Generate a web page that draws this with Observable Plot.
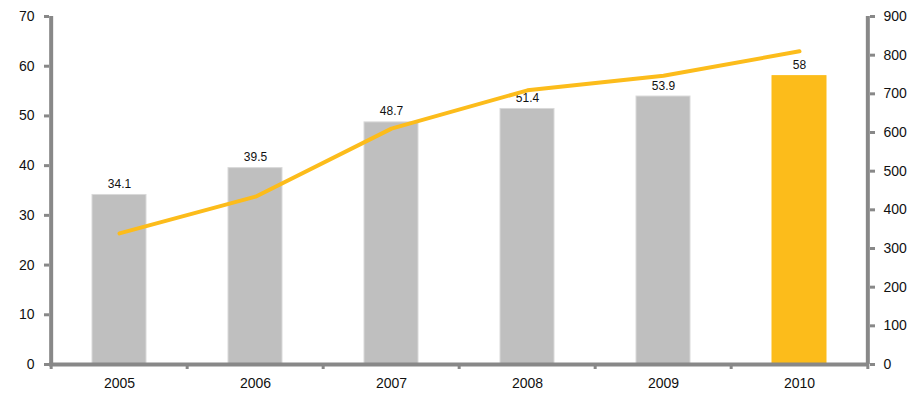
<!DOCTYPE html>
<html>
<head>
<meta charset="utf-8">
<script src="https://cdn.jsdelivr.net/npm/d3@7"></script>
<script src="https://cdn.jsdelivr.net/npm/@observablehq/plot@0.6"></script>
<style>
  html, body { margin: 0; padding: 0; background: #fff; }
  #chart svg { display: block; }
</style>
</head>
<body>
<div id="chart"></div>
<script>
const years = ["2005", "2006", "2007", "2008", "2009", "2010"];
const barValues = [34.1, 39.5, 48.7, 51.4, 53.9, 58];
const lineValues = [339, 434, 610, 709, 747, 810];
const leftTicks = [0, 10, 20, 30, 40, 50, 60, 70];
const rightTicks = [0, 100, 200, 300, 400, 500, 600, 700, 800, 900];

const leftMax = 70, rightMax = 900;
const toLeft = v => v * leftMax / rightMax;

const rows = years.map((year, i) => ({
  year,
  bar: barValues[i],
  line: toLeft(lineValues[i]),
  highlight: i === years.length - 1
}));

const gray = "#888888";
const W = 922, H = 408;
const mL = 49, mR = 53;
const half = (W - mL - mR) / years.length / 2;

const chart = Plot.plot({
  width: W,
  height: H,
  marginLeft: mL,
  marginRight: mR,
  marginTop: 16,
  marginBottom: 44,
  style: { fontFamily: "'Liberation Sans', Arial, sans-serif", background: "#fff" },
  x: { type: "band", domain: years, paddingInner: 0.6, paddingOuter: 0.3, align: 0.5, label: null },
  y: { domain: [0, leftMax], label: null },
  marks: [
    Plot.barY(rows, {
      x: "year", y: "bar",
      fill: d => d.highlight ? "#FCBC1B" : "#BFBFBF",
      stroke: d => d.highlight ? "#FCBC1B" : "#D9D9D9",
      strokeWidth: 1
    }),
    Plot.text(rows, {
      x: "year", y: "bar", text: d => String(d.bar),
      lineAnchor: "bottom", dy: -7, fontSize: 12, fill: "#111"
    }),
    Plot.line(rows, {
      x: "year", y: "line", stroke: "#FCBC1B", strokeWidth: 4, curve: "linear"
    }),
    // axis lines
    Plot.ruleY([0], { stroke: gray, strokeWidth: 4 }),
    Plot.ruleX([years[0]], { x: d => d, dx: -half, stroke: gray, strokeWidth: 4 }),
    Plot.ruleX([years[years.length - 1]], { x: d => d, dx: half, stroke: gray, strokeWidth: 4 }),
    // x boundary ticks
    Plot.ruleX(years, { x: d => d, dx: -half, y1: 0, y2: 0, insetBottom: -5, stroke: gray, strokeWidth: 3 }),
    Plot.ruleX([years[years.length - 1]], { x: d => d, dx: half, y1: 0, y2: 0, insetBottom: -5, stroke: gray, strokeWidth: 3 }),
    Plot.axisX({ tickSize: 0, tickPadding: 14, fontSize: 14, color: "#111", label: null }),
    Plot.axisY(leftTicks, {
      anchor: "left", tickSize: 5, tickPadding: 10, fontSize: 14, stroke: gray, strokeWidth: 3, color: "#111", label: null
    }),
    Plot.axisY(rightTicks.map(toLeft), {
      anchor: "right", tickSize: 5, tickPadding: 9, fontSize: 14, stroke: gray, strokeWidth: 3, color: "#111", label: null,
      tickFormat: d => String(Math.round(d * rightMax / leftMax))
    })
  ]
});

document.getElementById("chart").appendChild(chart);
</script>
</body>
</html>
